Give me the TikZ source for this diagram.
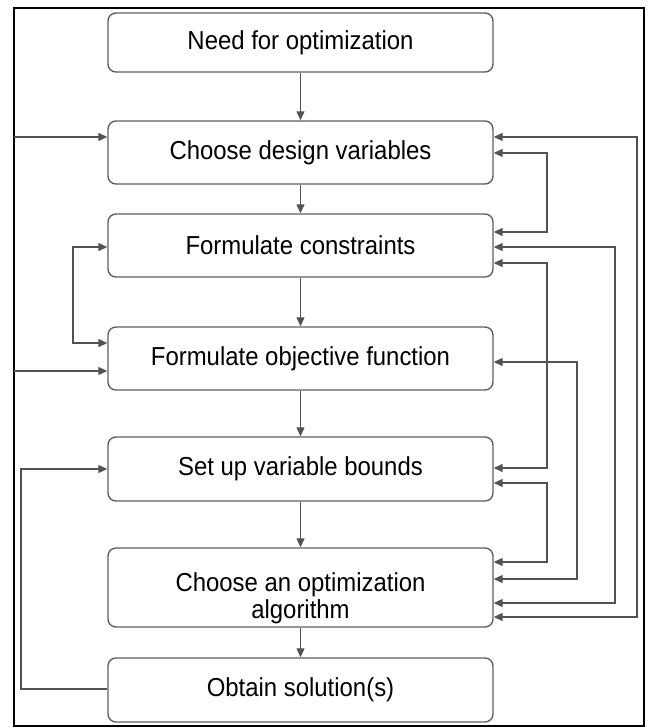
\documentclass[tikz,border=0pt]{standalone}
\usepackage{fontspec}
\setmainfont{Liberation Sans}[FakeStretch=0.92]
\usetikzlibrary{arrows.meta}

\tikzset{
  stage/.style={draw=gray!75!black, line width=1.4pt, rounded corners=8pt,
    minimum width=385pt, inner sep=0pt, align=center,
    font=\fontsize{26}{27}\selectfont},
  flow/.style={-{Triangle[length=9pt,width=8pt]}, draw=gray!65!black, line width=1.2pt},
  loop/.style={{Triangle[length=9pt,width=8pt]}-{Triangle[length=9pt,width=8pt]},
    draw=gray!65!black, line width=1.3pt},
}

\begin{document}
\begin{tikzpicture}[x=1pt, y=-1pt]
    \useasboundingbox (0, 0) rectangle (647, 727);
    \draw[line width=1.5pt] (14, 8) rectangle (644, 726);
    \node[stage, minimum height=59pt] (Need) at (300.5, 42.5) {Need for optimization};
    \node[stage, minimum height=63pt] (Design) at (300.5, 152.5) {Choose design variables};
    \node[stage, minimum height=63pt] (Constraints) at (300.5, 245.5) {Formulate constraints};
    \node[stage, minimum height=63pt] (Objective) at (300.5, 358.5) {Formulate objective function};
    \node[stage, minimum height=64pt] (Bounds) at (300.5, 469) {Set up variable bounds};
    \node[stage, minimum height=79pt] (Algorithm) at (300.5, 587.5) {\rule{0pt}{40pt}Choose an optimization\\algorithm};
    \node[stage, minimum height=64pt] (Solution) at (300.5, 690) {Obtain solution(s)};
    \coordinate (Frame Design) at (14, 137);
    \coordinate (Frame Objective) at (14, 371);
    \draw[flow] (Need) -- (Design);
    \draw[flow] (Design) -- (Constraints);
    \draw[flow] (Constraints) -- (Objective);
    \draw[flow] (Objective) -- (Bounds);
    \draw[flow] (Bounds) -- (Algorithm);
    \draw[flow] (Algorithm) -- (Solution);
    \draw[loop] (Design.east |- 0, 137) -| (637, 617) -- (Algorithm.east |- 0, 617);
    \draw[loop] (Design.east |- 0, 153) -| (547, 232) -- (Constraints.east |- 0, 232);
    \draw[loop] (Constraints.east |- 0, 247) -| (615, 603) -- (Algorithm.east |- 0, 603);
    \draw[loop] (Constraints.east |- 0, 263) -| (547, 468) -- (Bounds.east |- 0, 468);
    \draw[loop] (Objective.east |- 0, 362) -| (577, 579) -- (Algorithm.east |- 0, 579);
    \draw[loop] (Bounds.east |- 0, 483) -| (547, 562) -- (Algorithm.east |- 0, 562);
    \draw[loop] (Constraints.west |- 0, 247) -| (73, 343) -- (Objective.west |- 0, 343);
    \draw[flow] (Frame Design) -- (Design.west |- 0, 137);
    \draw[flow] (Frame Objective) -- (Objective.west |- 0, 371);
    \draw[flow] (Solution.west |- 0, 689) -| (21, 469) -- (Bounds.west |- 0, 469);
  \end{tikzpicture}
\end{document}
